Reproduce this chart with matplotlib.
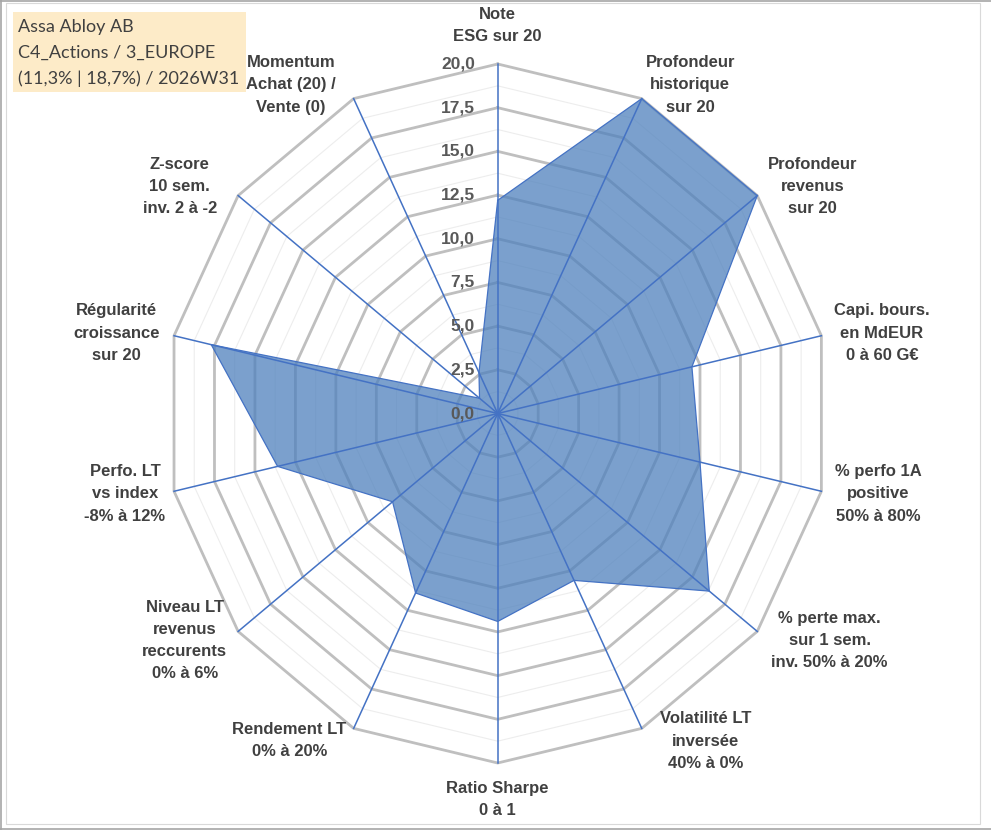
import matplotlib.pyplot as plt
import matplotlib.patches as mpatches
from matplotlib.lines import Line2D
import numpy as np

# axes du radar, dans le sens horaire depuis le haut
CATEGORIES = [
    "Note\nESG sur 20",
    "Profondeur\nhistorique\nsur 20",
    "Profondeur\nrevenus\nsur 20",
    "Capi. bours.\nen MdEUR\n0 à 60 G€",
    "% perfo 1A\npositive\n50% à 80%",
    "% perte max.\nsur 1 sem.\ninv. 50% à 20%",
    "Volatilité LT\ninversée\n40% à 0%",
    "Ratio Sharpe\n0 à 1",
    "Rendement LT\n0% à 20%",
    "Niveau LT\nrevenus\nreccurents\n0% à 6%",
    "Perfo. LT\nvs index\n-8% à 12%",
    "Régularité\ncroissance\nsur 20",
    "Z-score\n10 sem.\ninv. 2 à -2",
    "Momentum\nAchat (20) /\nVente (0)",
]
SCORES = [12.2, 20.0, 20.0, 12.0, 12.5, 16.3, 10.6, 11.9, 11.4, 8.1, 13.6, 17.7, 1.4, 2.6]

TICKS = [0.0, 2.5, 5.0, 7.5, 10.0, 12.5, 15.0, 17.5, 20.0]
TICK_LABELS = ["0,0", "2,5", "5,0", "7,5", "10,0", "12,5", "15,0", "17,5", "20,0"]
MINOR_STEP = 1.25
VMAX = 20.0

TITLE_LINES = ["Assa Abloy AB", "C4_Actions / 3_EUROPE", "(11,3% | 18,7%) / 2026W31"]

# mise en page (pixels de l'image)
W, H = 991, 830
CX, CY = 497.7, 413.5        # centre du radar (depuis le haut)
RX, RY = 332.0, 349.5        # rayon horizontal / vertical de l'anneau 20
# centre des étiquettes, en unités de valeur
LABEL_POS = [(0, 22.2), (11.6, 18.8), (18.95, 13.0), (23.15, 4.6), (22.95, -4.6),
             (20.0, -13.0), (12.5, -18.75), (0, -22.1), (-12.55, -18.7), (-18.85, -13.0),
             (-22.45, -4.6), (-22.95, 4.6), (-19.15, 13.0), (-12.45, 18.8)]

GRID_MAJOR = '#BFBFBF'
GRID_MINOR = '#EDEDED'
FILL = '#4F81BD'
LINE = '#4472C4'
TXT = '#404040'
TICK_TXT = '#595959'


def px(x, y):
    """pixels (origine en haut à gauche) -> fraction de figure"""
    return x / W, 1 - y / H


n = len(CATEGORIES)
theta = np.arange(n) * 2 * np.pi / n
sx, sy = np.sin(theta), np.cos(theta)

fig = plt.figure(figsize=(W / 100, H / 100), dpi=100)
ax = fig.add_axes([0, 0, 1, 1])
ax.set_xlim(-CX / RX * VMAX, (W - CX) / RX * VMAX)
ax.set_ylim(-(H - CY) / RY * VMAX, CY / RY * VMAX)
ax.axis('off')

# anneaux polygonaux
levels = np.arange(MINOR_STEP, VMAX + 0.01, MINOR_STEP)
for lev in levels:
    major = abs(lev / 2.5 - round(lev / 2.5)) < 1e-6
    xr = np.append(sx, sx[0]) * lev
    yr = np.append(sy, sy[0]) * lev
    if major:
        ax.plot(xr, yr, color=GRID_MAJOR, lw=2.0, zorder=2, solid_joinstyle='miter')
    else:
        ax.plot(xr, yr, color=GRID_MINOR, lw=0.8, zorder=1)

# série
vals = np.array(SCORES)
xs, ys = vals * sx, vals * sy
ax.fill(xs, ys, color=FILL, alpha=0.75, lw=0, zorder=3)
ax.plot(np.append(xs, xs[0]), np.append(ys, ys[0]), color=LINE, lw=0.9, zorder=4)

# rayons
for i in range(n):
    ax.plot([0, sx[i] * VMAX], [0, sy[i] * VMAX], color=LINE, lw=1.1, zorder=5)

# graduations
for t, lab in zip(TICKS, TICK_LABELS):
    ax.text(-1.37, t, lab, ha='right', va='center', fontsize=12.5, fontweight='bold',
            color=TICK_TXT, family='Liberation Sans', zorder=6)

# étiquettes des axes
for lab, (lx, ly) in zip(CATEGORIES, LABEL_POS):
    ax.text(lx, ly, lab, ha='center', va='center', multialignment='center',
            fontsize=12, fontweight='bold', color=TXT, family='Liberation Sans',
            linespacing=1.6, zorder=6)

# encadré titre
x0, y0 = px(13, 92)
x1, y1 = px(246, 12)
fig.add_artist(mpatches.Rectangle((x0, y0), x1 - x0, y1 - y0, transform=fig.transFigure,
                                  facecolor='#FDEBC8', edgecolor='none', zorder=7))
for k, line in enumerate(TITLE_LINES):
    tx, ty = px(18, 27 + 26 * k)
    fig.text(tx, ty, line, ha='left', va='center', fontsize=13, color=TXT,
             family='Lato', zorder=8)

# cadres
bx0, by0 = px(6, 824)
bx1, by1 = px(980, 3)
fig.add_artist(mpatches.Rectangle((bx0, by0), bx1 - bx0, by1 - by0, transform=fig.transFigure,
                                  facecolor='none', edgecolor='#D9D9D9', lw=0.8))
for (a, b), (c, d) in [((0, 1), (991, 1)), ((0.5, 0), (0.5, 830)), ((0, 829), (991, 829))]:
    p, q = px(a, b)
    r, s = px(c, d)
    fig.add_artist(Line2D([p, r], [q, s], transform=fig.transFigure, color='#A6A6A6', lw=1.2))

fig.savefig('out.png', dpi=100, facecolor='white')
